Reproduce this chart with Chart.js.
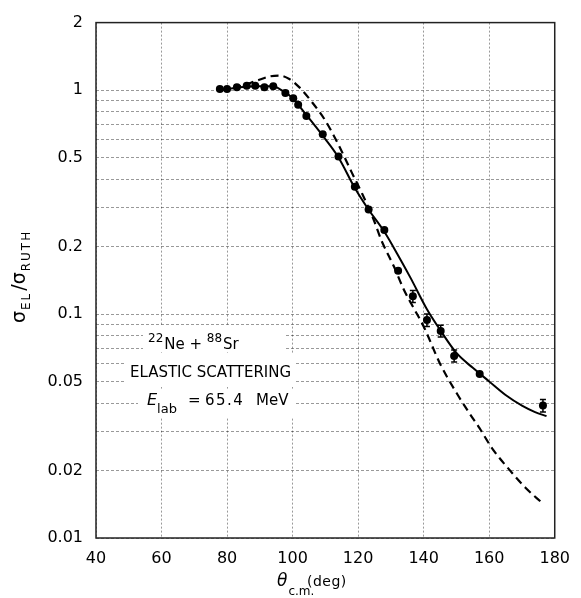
<!DOCTYPE html>
<html>
<head>
<meta charset="utf-8">
<script src="https://cdn.jsdelivr.net/npm/chart.js@4.4.1/dist/chart.umd.min.js"></script>
<style>
	body { margin: 0; background: #fff; }
	canvas { display: block; }
</style>
</head>
<body>
<canvas id="chart" width="581" height="598"></canvas>
<script>
// measured points (theta c.m. in deg, sigma_el / sigma_ruth)
const angles = [ 77.8, 80.0, 83.0, 86.0, 88.6, 91.4, 94.1, 97.8, 100.2, 101.7, 104.2, 109.2,
	114.0, 119.0, 123.2, 128.0, 132.2, 136.7, 141.0, 145.2, 149.3, 157.1, 176.4 ];
const ratios = [ 1.01, 1.01, 1.03, 1.045, 1.045, 1.03, 1.04, 0.97, 0.92, 0.86, 0.765, 0.635,
	0.505, 0.37, 0.293, 0.237, 0.156, 0.12, 0.094, 0.084, 0.065, 0.054, 0.039 ];
const errors = [ 0, 0, 0, 0, 0, 0, 0, 0, 0, 0, 0, 0,
	0, 0, 0, 0, 0, 0.0075, 0.006, 0.005, 0.004, 0, 0.0025 ];

// solid curve
const solidAngles = [ 78, 84, 90, 94, 97, 100, 104, 109, 114, 119, 123, 128, 132, 136, 141,
	145, 150, 155, 160, 165, 170, 174, 177.5 ];
const solidRatios = [ 1.00, 1.03, 1.04, 1.04, 0.99, 0.92, 0.78, 0.63, 0.50, 0.365, 0.295, 0.233,
	0.185, 0.145, 0.105, 0.085, 0.067, 0.0575, 0.050, 0.0435, 0.039, 0.0365, 0.035 ];

// dashed curve
const dashAngles = [ 78, 84, 89, 93, 96, 99, 102, 106, 110, 114, 118, 121, 124.6, 127, 131,
	134, 137, 140, 145, 150, 154, 157, 161, 166, 171, 176.5 ];
const dashRatios = [ 1.00, 1.04, 1.10, 1.15, 1.16, 1.12, 1.03, 0.88, 0.73, 0.57, 0.43, 0.35, 0.267,
	0.215, 0.162, 0.128, 0.106, 0.088, 0.060, 0.0445, 0.036, 0.031, 0.025, 0.0203, 0.0168, 0.0142 ];

const xTicks = [ 40, 60, 80, 100, 120, 140, 160, 180 ];
const yTicks = [ 0.01, 0.02, 0.03, 0.04, 0.05, 0.06, 0.07, 0.08, 0.09,
	0.1, 0.2, 0.3, 0.4, 0.5, 0.6, 0.7, 0.8, 0.9, 1, 2 ];
const yLabels = [ 0.01, 0.02, 0.05, 0.1, 0.2, 0.5, 1, 2 ];

const FONT = '"DejaVu Sans", "Liberation Sans", sans-serif';

const toXY = ( xs, ys ) => xs.map( ( x, i ) => ( { x: x, y: ys[ i ] } ) );

// draw a run of text and return where it ends
const piece = ( ctx, text, x, y, size, style, spacing ) => {
	ctx.font = ( style || '' ) + ' ' + size + 'px ' + FONT;
	ctx.letterSpacing = ( spacing || 0 ) + 'px';
	ctx.fillText( text, x, y );
	const w = ctx.measureText( text ).width;
	ctx.letterSpacing = '0px';
	return x + w;
};

const errorBars = {
	id: 'errorBars',
	afterDatasetsDraw: ( chart ) => {
		const ctx = chart.ctx;
		const xs = chart.scales.x;
		const ys = chart.scales.y;
		ctx.save();
		ctx.strokeStyle = '#000';
		ctx.lineWidth = 1.5;
		for ( let i = 0; i < angles.length; i++ ) {
			if ( ! errors[ i ] ) {
				continue;
			}
			const px = xs.getPixelForValue( angles[ i ] );
			const top = ys.getPixelForValue( ratios[ i ] + errors[ i ] );
			const bot = ys.getPixelForValue( ratios[ i ] - errors[ i ] );
			ctx.beginPath();
			ctx.moveTo( px, top );
			ctx.lineTo( px, bot );
			ctx.moveTo( px - 3, top );
			ctx.lineTo( px + 3, top );
			ctx.moveTo( px - 3, bot );
			ctx.lineTo( px + 3, bot );
			ctx.stroke();
		}
		ctx.restore();
	}
};

const decorations = {
	id: 'decorations',
	beforeDatasetsDraw: ( chart ) => {
		const ctx = chart.ctx;
		const a = chart.chartArea;
		ctx.save();

		// white boxes that cut the grid behind the labels
		ctx.fillStyle = '#fff';
		ctx.fillRect( 143, 326, 143, 26 );
		ctx.fillRect( 124, 354, 170, 33 );
		ctx.fillRect( 138, 389, 156, 28 );

		ctx.fillStyle = '#000';
		ctx.textBaseline = 'alphabetic';
		ctx.textAlign = 'left';
		let x = 148;
		x = piece( ctx, '22', x, 342, 12 );
		x = piece( ctx, 'Ne', x + 1, 349, 15 );
		x = piece( ctx, ' + ', x, 349, 15 );
		x = piece( ctx, '88', x, 342, 12 );
		piece( ctx, 'Sr', x + 1, 349, 15 );

		piece( ctx, 'ELASTIC SCATTERING', 130, 377, 15 );

		x = piece( ctx, 'E', 147, 405, 16, 'italic' );
		piece( ctx, 'lab', x, 413, 13 );
		piece( ctx, '=', 188, 405, 15 );
		piece( ctx, '65.4', 205, 405, 15, '', 1.5 );
		piece( ctx, 'MeV', 256, 405, 15 );

		// frame
		ctx.strokeStyle = '#222';
		ctx.lineWidth = 1.5;
		ctx.strokeRect( a.left, a.top, a.right - a.left, a.bottom - a.top );

		// y axis title
		ctx.save();
		ctx.translate( 25, 323 );
		ctx.rotate( -Math.PI / 2 );
		x = piece( ctx, 'σ', 0, 0, 19 );
		x = piece( ctx, 'EL', x + 1, 5, 12, '', 2 );
		x = piece( ctx, '/', x + 1, 0, 19 );
		x = piece( ctx, 'σ', x, 0, 19 );
		piece( ctx, 'RUTH', x + 1, 5, 12, '', 2 );
		ctx.restore();

		// x axis title
		x = piece( ctx, 'θ', 277, 586, 17, 'italic' );
		piece( ctx, 'c.m.', x + 1, 595, 12 );
		piece( ctx, '(deg)', 307, 586, 14, '', 0.5 );

		ctx.restore();
	}
};

window.onload = () => {
	const ctx = document.getElementById( 'chart' ).getContext( '2d' );
	const gridStyle = {
		color: 'rgba(0,0,0,0.4)',
		lineWidth: 1,
		drawTicks: false
	};
	new Chart( ctx, {
		type: 'scatter',
		data: {
			datasets: [
				{
					data: toXY( angles, ratios ),
					showLine: false,
					pointRadius: 4,
					pointBackgroundColor: '#000',
					pointBorderColor: '#000',
					pointBorderWidth: 0
				},
				{
					data: toXY( solidAngles, solidRatios ),
					showLine: true,
					pointRadius: 0,
					borderColor: '#000',
					borderWidth: 2,
					cubicInterpolationMode: 'monotone'
				},
				{
					data: toXY( dashAngles, dashRatios ),
					showLine: true,
					pointRadius: 0,
					borderColor: '#000',
					borderWidth: 2.2,
					borderDash: [ 8, 5 ],
					cubicInterpolationMode: 'monotone'
				}
			]
		},
		options: {
			responsive: false,
			animation: false,
			layout: { padding: { left: 0, right: 18, top: 18, bottom: 0 } },
			plugins: {
				legend: { display: false },
				tooltip: { enabled: false }
			},
			scales: {
				x: {
					type: 'linear',
					min: 40,
					max: 180,
					afterBuildTicks: ( scale ) => {
						scale.ticks = xTicks.map( ( v ) => ( { value: v } ) );
					},
					afterFit: ( scale ) => {
						scale.height = 60;
					},
					border: { display: false, dash: [ 2, 2 ] },
					grid: gridStyle,
					ticks: {
						color: '#000',
						padding: 11,
						maxRotation: 0,
						font: { family: FONT, size: 16 }
					}
				},
				y: {
					type: 'logarithmic',
					min: 0.01,
					max: 2,
					afterBuildTicks: ( scale ) => {
						scale.ticks = yTicks.map( ( v ) => ( { value: v } ) );
					},
					afterFit: ( scale ) => {
						scale.width = 96;
					},
					border: { display: false, dash: [ 3, 2 ] },
					grid: gridStyle,
					ticks: {
						color: '#000',
						padding: 13,
						autoSkip: false,
						font: { family: FONT, size: 16 },
						callback: ( value ) => yLabels.includes( value ) ? String( value ) : ''
					}
				}
			}
		},
		plugins: [ errorBars, decorations ]
	} );
};
</script>
</body>
</html>
